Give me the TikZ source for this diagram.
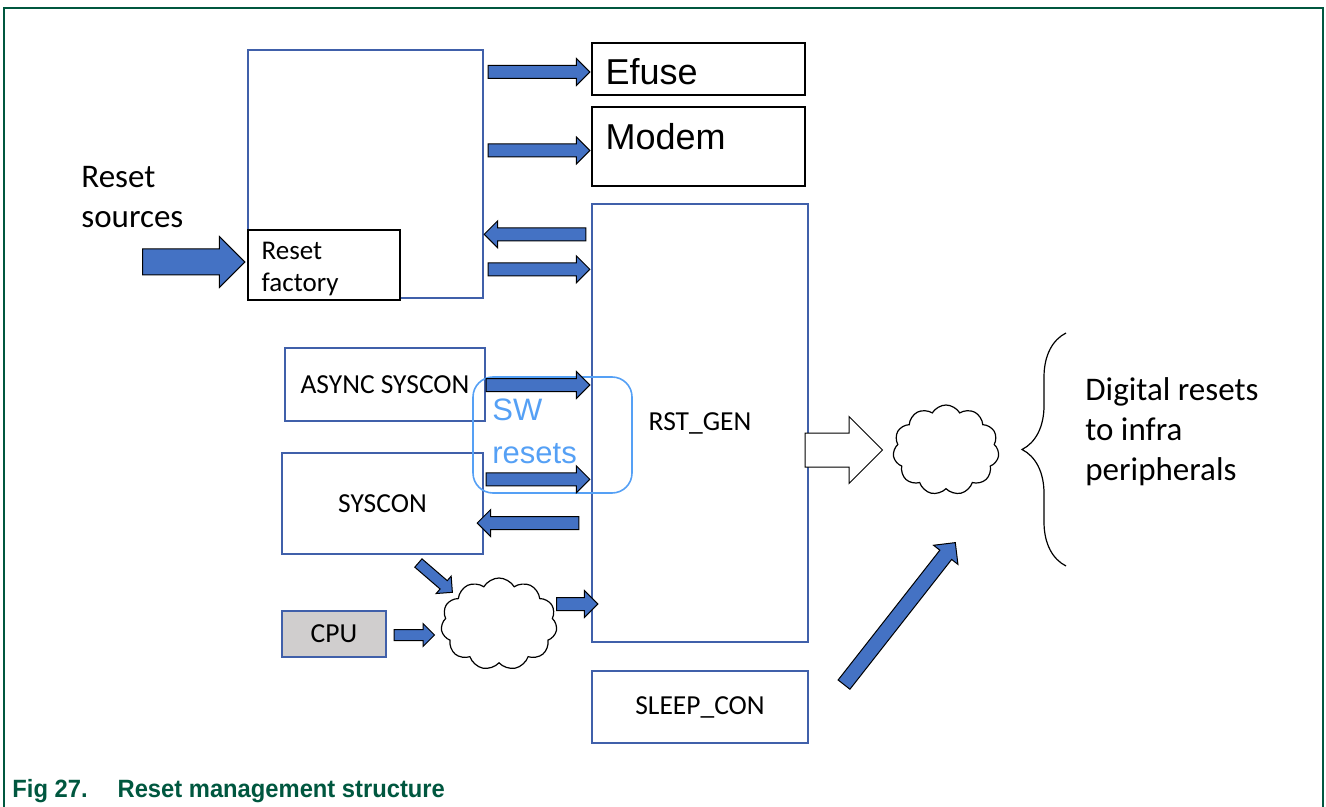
\documentclass[tikz,border=0pt]{standalone}
\usepackage{fontspec}
\setmainfont{Carlito}
\newfontfamily\arialfont{Liberation Sans}
\newfontfamily\capfont[FakeStretch=0.95]{Liberation Sans}
\usetikzlibrary{positioning,calc,shapes.arrows,shapes.symbols,decorations.pathreplacing}

\definecolor{boxblue}{RGB}{64,96,170}
\definecolor{arrblue}{RGB}{68,114,196}
\definecolor{swblue}{RGB}{85,160,245}
\definecolor{framegreen}{RGB}{0,87,63}
\definecolor{cpugray}{RGB}{208,206,206}

% block arrow between two points
\newcommand{\blkarrow}[3][blk]{%
  \path let \p1=(#2), \p2=(#3), \n1={atan2(\y2-\y1,\x2-\x1)}, \n2={veclen(\x2-\x1,\y2-\y1)} in
    node[#1, minimum height=\n2, rotate=\n1, anchor=tail] at (\p1) {};}

\tikzset{
  box/.style={draw=boxblue, line width=0.7pt, inner sep=0pt},
  blkbox/.style={draw=black, line width=0.7pt, inner sep=0pt},
  lbl/.style={font=\fontsize{13.75}{16}\selectfont},
  blk/.style={single arrow, draw=black, line width=0.5pt, fill=arrblue,
    inner sep=3pt, single arrow head extend=3.5pt, single arrow tip angle=90},
  blkthin/.style={blk, inner sep=2.5pt, single arrow head extend=3pt},
  blkdiag/.style={blk, inner sep=3.5pt, single arrow head extend=4pt},
  blkbig/.style={blk, inner sep=6.25pt, single arrow head extend=6.25pt},
  blkhollow/.style={blk, fill=white, inner sep=8.25pt, single arrow head extend=8.25pt},
  puff/.style={cloud, draw, line width=0.6pt, cloud puffs=11, cloud puff arc=120, aspect=1.3, inner sep=0pt}
}

\begin{document}
\begin{tikzpicture}[x=0.5pt,y=-0.5pt]
\useasboundingbox (0,0) rectangle (1326,807);
%\draw [help lines] (0,0) grid (1326,807);

% boxes
\node[box, minimum width=117.5pt, minimum height=124pt] (top) at (365.5,174) {};
\node[blkbox, fill=white, minimum width=76pt, minimum height=35pt] (fact) at (324,265) {};
\node[blkbox, minimum width=106.5pt, minimum height=26pt] (efuse) at (698.5,69) {};
\node[blkbox, minimum width=106.5pt, minimum height=39.5pt] (modem) at (698.5,146.5) {};
\node[box, minimum width=108pt, minimum height=219pt, lbl] (rst) at (700,423) {RST\_GEN};
\node[box, minimum width=108pt, minimum height=36pt, lbl] (sleep) at (700,707) {SLEEP\_CON};
\node[box, minimum width=100pt, minimum height=36.5pt, lbl] (async) at (385,384.5) {ASYNC SYSCON};
\node[box, minimum width=100.5pt, minimum height=50.5pt, lbl] (syscon) at (382.5,503.5) {SYSCON};
\node[box, fill=cpugray, minimum width=52pt, minimum height=23pt, lbl] (cpu) at (334,634) {CPU};
\node[draw=swblue, line width=0.8pt, rounded corners=10pt, inner sep=0pt,
  minimum width=79.5pt, minimum height=58pt] (sw) at (552.5,435) {};

% clouds
\node[puff, minimum width=58pt, minimum height=46pt] (cloudA) at (499,624) {};
\node[puff, minimum width=53pt, minimum height=45pt] (cloudB) at (946,450) {};

% texts
\node[anchor=west, align=left, inner sep=0pt, font=\fontsize{13.5}{16}\selectfont]
  (facttxt) at ($(fact.west)+(14,4)$) {Reset\\factory};
\node[anchor=base west, inner sep=0pt, font=\arialfont\fontsize{18}{20}\selectfont]
  (efusetxt) at ($(efuse.north west)+(14,42)$) {Efuse};
\node[anchor=base west, inner sep=0pt, font=\arialfont\fontsize{18}{20}\selectfont]
  (modemtxt) at ($(modem.north west)+(14,43)$) {Modem};
\node[anchor=west, align=left, inner sep=0pt, text=swblue,
  font=\arialfont\fontsize{15.5}{21.5}\selectfont] (swtxt) at (492,431) {SW\\resets};
\node[anchor=west, align=left, inner sep=0pt, font=\fontsize{16.5}{20}\selectfont]
  (src) at (81,197) {Reset\\sources};
\node[anchor=west, align=left, inner sep=0pt, font=\fontsize{16.5}{20}\selectfont]
  (dig) at (1085,432) {Digital resets\\to infra\\peripherals};

% arrows
\coordinate (rsrc) at (142,262);
\blkarrow[blkbig]{rsrc}{$(fact.west)+(-3,-3)$}
\blkarrow{$(top.east|-efuse.west)+(4,3)$}{$(efuse.west)+(-2,3)$}
\blkarrow{$(top.east|-modem.west)+(4,4)$}{$(modem.west)+(-2,4)$}
\blkarrow{$(rst.north west)+(-5,31)$}{$(top.east|-rst.north west)+(1,31)$}
\blkarrow{$(top.east|-rst.north west)+(4,66)$}{$(rst.north west)+(-2,66)$}
\blkarrow{$(async.east)+(0,0.5)$}{$(rst.west|-async.east)+(-2,0.5)$}
\blkarrow{$(syscon.north east)+(2,27)$}{$(rst.west|-syscon.north east)+(-2,27)$}
\blkarrow{$(rst.west|-syscon.east)+(-12,19.5)$}{$(syscon.east)+(-6,19.5)$}
\blkarrow{$(cloudA.center)+(57,-20)$}{$(rst.west|-cloudA.center)+(6,-20)$}
\blkarrow[blkthin]{$(syscon.south)+(35.5,8)$}{$(cloudA.center)+(-47,-32)$}
\blkarrow[blkthin]{$(cpu.east)+(7,1)$}{$(cloudA.center)+(-65,11)$}
\blkarrow[blkdiag]{$(sleep.east)+(35,-22)$}{$(cloudB.center)+(9,93)$}
\blkarrow[blkhollow]{$(rst.east)+(-4,27)$}{$(cloudB.center)+(-64,0)$}

% brace
\coordinate (brbot) at (1066,566);
\coordinate (brtop) at (1066,333);
\draw[decorate, decoration={brace, amplitude=22pt}, line width=0.6pt] (brbot) -- (brtop);

% frame and caption
\draw[framegreen, line width=1pt] (4,807) -- (4,8) -- (1323,8) -- (1323,807);
\node[anchor=base west, inner sep=0pt, text=framegreen,
  font=\capfont\bfseries\fontsize{12.5}{14}\selectfont] (cap) at (12,797)
  {Fig 27.\hspace{15pt}Reset management structure};
\end{tikzpicture}
\end{document}
